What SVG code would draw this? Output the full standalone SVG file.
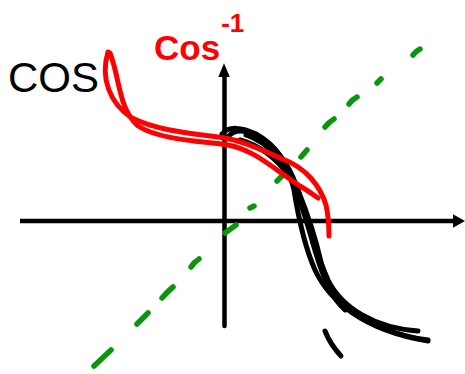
<svg xmlns="http://www.w3.org/2000/svg" width="465" height="374" viewBox="0 0 465 374">
<style>
.ax{stroke:#000;stroke-width:4.5;fill:none}
.ah{fill:#000}
.dash{stroke:#0a960a;stroke-width:5.5;stroke-linecap:round;fill:none}
.red{stroke:#ff0000;stroke-width:5;stroke-linecap:round;stroke-linejoin:round;fill:none}
.blk{stroke:#000;stroke-width:5;stroke-linecap:round;stroke-linejoin:round;fill:none}
.lbl{font-family:"Liberation Sans",Arial,sans-serif}
</style>
<rect width="465" height="374" fill="#fff"/>
<g id="axes">
<line class="ax" x1="20" y1="221" x2="455" y2="221"/>
<polygon class="ah" points="453,214.3 465,221 453,227.7"/>
<line class="ax" x1="224.5" y1="326" x2="224.5" y2="75" stroke-linecap="round"/>
<polygon class="ah" points="218.3,77 224,63.3 229.8,77"/>
</g>
<g id="line-y-equals-x">
<path class="dash" d="M94,366 L111,350"/>
<path class="dash" d="M137,324 L148,313"/>
<path class="dash" d="M162,298 Q168,291 173,287"/>
<path class="dash" d="M191,267 Q194,262 199,259"/>
<path class="dash" d="M225,233 L236,225"/>
<path class="dash" d="M250,208 L254,206"/>
<path class="dash" d="M277,181 L282,176"/>
<path class="dash" d="M301,157 L307,150"/>
<path class="dash" d="M325,127 Q329,122 334,119"/>
<path class="dash" d="M349,104 Q353,99 357,97"/>
<path class="dash" d="M377,83 L381,79"/>
<path class="dash" d="M413,55 Q416,51 420,49"/>
</g>
<g id="cos-curve">
<path class="blk" d="M222,134 C228,126 242,127 256,134 C276,145 289,165 294,190 C298,215 304,245 315,270 C329,300 362,330 428,341"/>
<path class="blk" d="M228,137 C234,129 246,129 260,138 C280,150 293,172 300,197 C307,222 317,255 328,280 C342,308 375,328 418,331"/>
<path class="blk" d="M240,140 C258,145 276,157 288,175 C299,193 305,217 312,240 C319,265 326,290 345,306 C365,322 395,336 428,340"/>
<path class="blk" d="M246,135 C267,142 287,163 298,190 C308,215 316,240 321,262 C326,284 332,298 345,310"/>
<path class="blk" d="M325,331 Q330,344 341,356"/>
</g>
<g id="arccos-curve">
<path class="red" d="M108,52 C100,78 110,104 132,118 C160,132 200,134 225,138 C248,142 265,152 285,160 C305,168 320,185 326,205 C329,218 329,228 329,236"/>
<path class="red" d="M110,53 C120,78 118,108 138,126 C160,140 200,141 228,145 C255,150 275,170 300,186 C310,192 315,196 318,198"/>
</g>
<g id="labels">
<text class="lbl" x="8" y="92" font-size="42" fill="#000">COS</text>
<text class="lbl" x="154" y="60" font-size="35" font-weight="bold" fill="#ff0000">Cos<tspan font-size="26" dx="1" dy="-28">-1</tspan></text>
</g>
</svg>
